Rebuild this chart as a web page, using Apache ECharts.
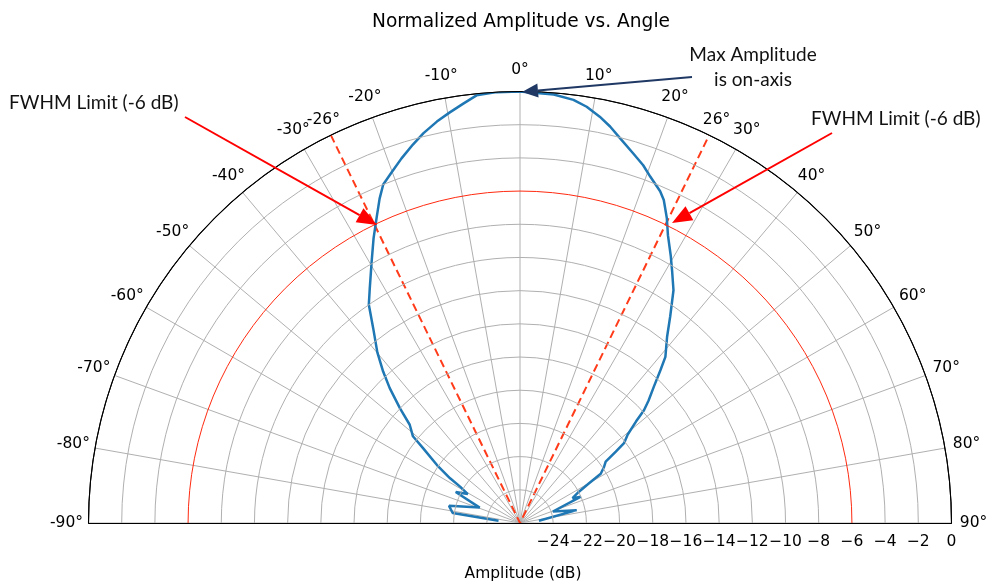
<!DOCTYPE html>
<html style="height: 100%">
<head>
<meta charset="utf-8">
</head>
<body style="height: 100%; margin: 0; background: #fff">
<div id="container" style="width: 986px; height: 581px"></div>
<script type="text/javascript" src="https://cdn.jsdelivr.net/npm/echarts/dist/echarts.min.js"></script>
<script type="text/javascript">

// measured beam pattern (angle in degrees, amplitude in dB)
var angleDeg = [-84.0, -81.6, -76.4, -69.1, -64.3, -61.0, -58.8, -57.4, -55.1, -52.3,
    -51.0, -48.3, -46.3, -44.0, -42.1, -39.9, -37.0, -34.7, -32.6, -29.6,
    -27.2, -25.2, -23.4, -22.0, -20.1, -18.0, -15.8, -13.9, -11.7, -9.7,
    -7.7, -5.8, -3.1, 0,
    4.5, 7.2, 9.1, 11.1, 12.8, 14.6, 17.0, 19.0, 20.6, 22.9,
    24.0, 25.7, 27.2, 29.4, 31.2, 33.4, 36.0, 38.3, 41.2, 42.6,
    44.5, 46.4, 47.7, 48.8, 50.6, 52.5, 53.3, 54.4, 56.2, 58.6,
    60.1, 62.1, 64.7, 66.6, 70.7, 77.2, 83.1];
var ampDb = [-24.7, -21.9, -21.6, -23.4, -21.7, -22.4, -21.8, -21.0, -19.9, -18.6,
    -17.7, -17.1, -16.0, -14.7, -13.7, -12.6, -11.3, -10.0, -9.2, -7.9,
    -6.7, -5.7, -4.7, -4.0, -3.5, -2.9, -2.3, -1.8, -1.3, -0.9,
    -0.5, -0.1, 0.0, 0.0,
    -0.1, -0.3, -0.6, -1.05, -1.5, -2.05, -2.7, -3.2, -3.7, -4.3,
    -4.7, -5.6, -6.5, -7.5, -8.3, -9.2, -10.6, -11.7, -12.7, -13.5,
    -14.5, -15.3, -15.9, -16.7, -17.6, -18.1, -18.8, -19.65, -19.9, -20.3,
    -21.2, -22.0, -22.5, -22.0, -23.9, -22.5, -24.85];

var angleLabels = [-90, -80, -70, -60, -50, -40, -30, -26, -20, -10, 0,
    10, 20, 26, 30, 40, 50, 60, 70, 80, 90];
var radiusTicks = [-26, -24, -22, -20, -18, -16, -14, -12, -10, -8, -6, -4, -2, 0];
var fwhmDb = -6;
var fwhmAngle = 26;

var cx = 520, cy = 523, R = 431.5;
var grey = '#b0b0b0';
var tickFont = 'DejaVu Sans';

var dom = document.getElementById('container');
var myChart = echarts.init(dom, null, { renderer: 'canvas' });

function minus(v) {
    return String(v).replace('-', '\u2212');
}

function arrow(x1, y1, x2, y2, color, len, halfW, lw) {
    var a = Math.atan2(y2 - y1, x2 - x1);
    var bx = x2 - len * Math.cos(a), by = y2 - len * Math.sin(a);
    var nx = -Math.sin(a) * halfW, ny = Math.cos(a) * halfW;
    return [
        { type: 'line', z: 100, shape: { x1: x1, y1: y1, x2: bx, y2: by },
          style: { stroke: color, lineWidth: lw } },
        { type: 'polygon', z: 100, shape: { points: [[x2, y2], [bx + nx, by + ny], [bx - nx, by - ny]] },
          style: { fill: color } }
    ];
}

var curve = angleDeg.map(function (a, i) { return [ampDb[i], a]; });

// angle labels sit on the outer edge, pushed out radially and centred like matplotlib
var angleLabelData = angleLabels.map(function (a) {
    var t = a * Math.PI / 180;
    var pad = Math.abs(a) === fwhmAngle ? 17 : 22;
    return {
        value: [0, a],
        label: { offset: [pad * Math.sin(t), -pad * Math.cos(t)] }
    };
});

var note = { fontFamily: 'Lato', fontSize: 19, fill: '#111' };
var graphics = []
    .concat(arrow(185, 117, 377, 225, '#ff0000', 20, 8, 2))
    .concat(arrow(832, 133, 672, 223, '#ff0000', 20, 8, 2))
    .concat(arrow(692, 77, 522, 92, '#1f3864', 16, 7, 2))
    .concat([
        { type: 'text', z: 100, left: 9, top: 93,
          style: Object.assign({ text: 'FWHM Limit (-6 dB)' }, note) },
        { type: 'text', z: 100, left: 811, top: 109,
          style: Object.assign({ text: 'FWHM Limit (-6 dB)' }, note) },
        { type: 'text', z: 100, x: 753, y: 42,
          style: Object.assign({ text: 'Max Amplitude\nis on-axis', align: 'center', lineHeight: 25 }, note) }
    ]);

option = {
    animation: false,
    backgroundColor: '#fff',
    title: [{
        text: 'Normalized Amplitude vs. Angle',
        left: 516, top: 8, textAlign: 'center',
        textStyle: { fontFamily: tickFont, fontSize: 18.6, fontWeight: 'normal', color: '#000' }
    }, {
        text: 'Amplitude (dB)',
        left: 518, top: 561, textAlign: 'center',
        textStyle: { fontFamily: tickFont, fontSize: 15.5, fontWeight: 'normal', color: '#000' }
    }],
    polar: { center: [cx, cy], radius: R },
    angleAxis: {
        type: 'value', min: -90, max: 90, interval: 10,
        startAngle: 180, endAngle: 0, clockwise: true,
        axisLine: { lineStyle: { color: '#000', width: 1.1 } },
        axisTick: { show: false },
        axisLabel: { show: false },
        splitLine: { show: true, lineStyle: { color: grey, width: 1 } }
    },
    radiusAxis: {
        type: 'value', min: -26, max: 0, interval: 2,
        axisLine: { show: true, lineStyle: { color: '#000', width: 1.1 } },
        axisTick: { show: false },
        axisLabel: { show: false },
        splitLine: {
            show: true,
            lineStyle: {
                color: radiusTicks.map(function (v) {
                    return v === fwhmDb ? '#ff2a10' : (v === 0 ? '#000' : grey);
                }),
                width: 1
            }
        },
        z: 5
    },
    grid: { left: cx, width: R, top: cy - 1, height: 1, show: false },
    xAxis: {
        type: 'value', min: -26, max: 0, interval: 2, position: 'bottom',
        axisLine: { lineStyle: { color: '#000', width: 1.1 } },
        axisTick: { show: false },
        splitLine: { show: false },
        axisLabel: {
            margin: 11, color: '#000', fontFamily: tickFont, fontSize: 15.5,
            showMinLabel: false,
            formatter: function (v) { return v === -26 ? '' : minus(v); }
        }
    },
    yAxis: { type: 'value', show: false, min: 0, max: 1 },
    series: [{
        name: 'FWHM angle',
        type: 'line',
        coordinateSystem: 'polar',
        data: [[0, -fwhmAngle], [-26, 0], [0, fwhmAngle]],
        symbol: 'none',
        silent: true,
        lineStyle: { color: '#ff3b1a', width: 2, type: [8, 4.5] },
        z: 3
    }, {
        name: 'Amplitude',
        type: 'line',
        coordinateSystem: 'polar',
        data: curve,
        symbol: 'none',
        lineStyle: { color: '#1f77b4', width: 2.5 },
        z: 4
    }, {
        name: 'Angle labels',
        type: 'scatter',
        coordinateSystem: 'polar',
        data: angleLabelData,
        symbolSize: 0,
        silent: true,
        clip: false,
        itemStyle: { opacity: 1 },
        label: {
            show: true, position: 'inside', align: 'center', verticalAlign: 'middle',
            color: '#000', opacity: 1, textBorderWidth: 0, fontFamily: tickFont, fontSize: 15.5,
            formatter: function (p) { return p.value[1] + '°'; }
        },
        z: 6
    }],
    graphic: graphics
};

myChart.setOption(option);

window.onresize = function () {
    myChart.resize();
};
</script>
</body>
</html>
